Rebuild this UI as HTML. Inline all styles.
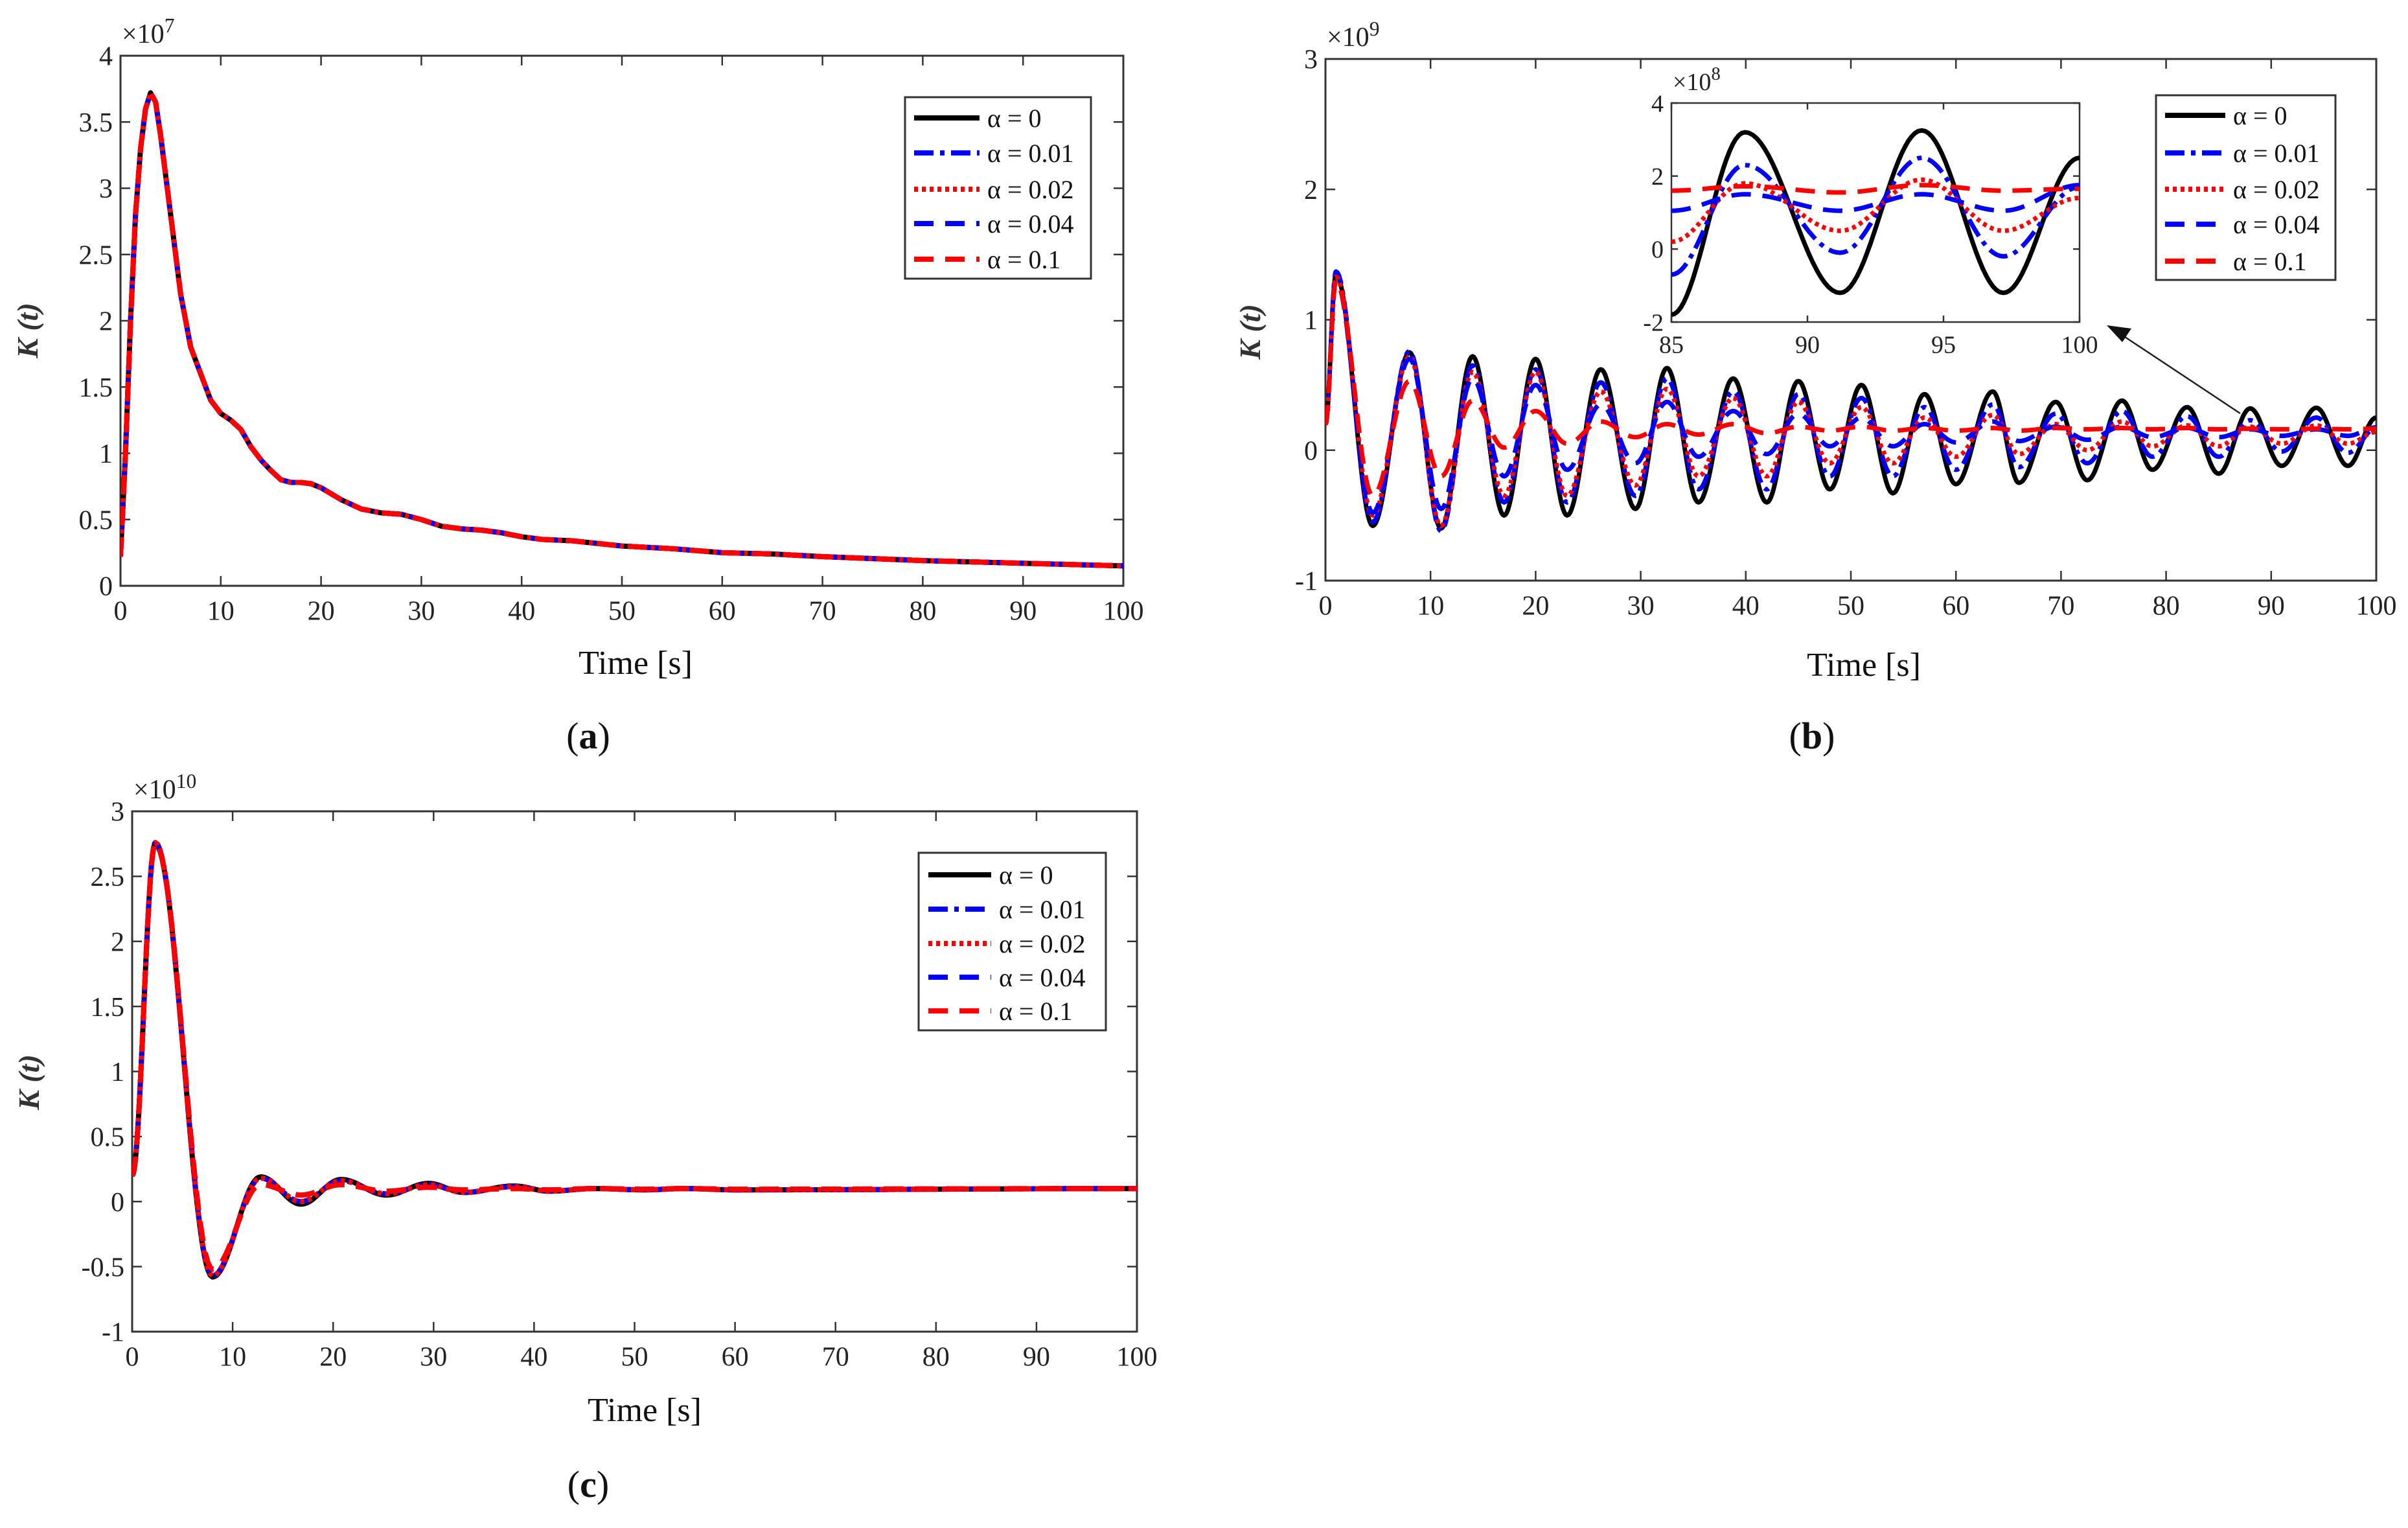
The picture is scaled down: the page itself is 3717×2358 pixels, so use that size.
<!DOCTYPE html>
<html><head><meta charset="utf-8"><style>
html,body{margin:0;padding:0;background:#fff}
svg{display:block;font-family:"Liberation Serif",serif}
</style></head><body>
<svg id="fig" width="3717" height="2358" viewBox="0 0 3717 2358" xmlns="http://www.w3.org/2000/svg"></svg>
<script>
// ---------- data ----------
// (a) K(t) x1e7
const aT=[0,0.5,1,1.5,2,2.5,3,3.5,4,5,6,7,8,9,10,11,12,13,14,15,16,17,18,19,20,22,24,26,28,30,32,34,36,38,40,42,45,50,55,60,65,70,80,90,100];
const aK=[0.22,1.0,2.0,2.8,3.3,3.6,3.72,3.65,3.4,2.8,2.2,1.8,1.6,1.4,1.3,1.25,1.18,1.05,0.95,0.87,0.8,0.78,0.78,0.77,0.74,0.65,0.58,0.55,0.54,0.50,0.45,0.43,0.42,0.40,0.37,0.35,0.34,0.30,0.28,0.25,0.24,0.22,0.19,0.17,0.15];
// (b) extrema x1e9
const bT=[0,1,4.5,8,11,14,17,20,23,26.2,29.5,32.5,35.5,38.8,42,45,48,51,54,57,60,63.5,66,69.5,72.5,75.8,78.7,82,85,88,91,94.3,97.3,100];
const bK0=[0.2,1.35,-0.58,0.75,-0.6,0.72,-0.5,0.70,-0.5,0.62,-0.45,0.63,-0.4,0.55,-0.4,0.53,-0.3,0.50,-0.33,0.43,-0.26,0.45,-0.25,0.37,-0.23,0.38,-0.15,0.33,-0.18,0.32,-0.12,0.325,-0.12,0.25];
const bK01=[0.2,1.37,-0.55,0.76,-0.62,0.65,-0.4,0.62,-0.4,0.52,-0.35,0.55,-0.3,0.45,-0.3,0.43,-0.2,0.40,-0.2,0.33,-0.15,0.35,-0.13,0.28,-0.1,0.3,-0.05,0.26,-0.05,0.23,-0.01,0.25,-0.02,0.17];
const bK02=[0.2,1.33,-0.5,0.72,-0.58,0.6,-0.35,0.6,-0.35,0.45,-0.27,0.47,-0.2,0.4,-0.2,0.37,-0.1,0.33,-0.1,0.25,-0.05,0.27,-0.03,0.2,0.0,0.22,0.03,0.19,0.03,0.18,0.05,0.19,0.05,0.14];
const bK04=[0.2,1.3,-0.48,0.7,-0.45,0.55,-0.2,0.5,-0.15,0.35,-0.1,0.37,-0.05,0.3,-0.03,0.28,0.03,0.25,0.03,0.2,0.06,0.22,0.07,0.18,0.08,0.18,0.1,0.17,0.1,0.16,0.11,0.16,0.11,0.175];
const bK1=[0.2,1.3,-0.35,0.53,-0.2,0.38,0.02,0.3,0.05,0.22,0.1,0.2,0.12,0.2,0.13,0.18,0.15,0.18,0.15,0.17,0.15,0.17,0.15,0.17,0.16,0.17,0.16,0.17,0.16,0.165,0.16,0.165,0.16,0.165];
// inset x1e8
const iT=[85,87.7,91.2,94.2,97.2,100];
const iK0=[-1.8,3.2,-1.2,3.25,-1.2,2.5];
const iK01=[-0.7,2.3,-0.1,2.5,-0.2,1.7];
const iK02=[0.2,1.8,0.5,1.9,0.5,1.4];
const iK04=[1.05,1.5,1.05,1.5,1.05,1.75];
const iK1=[1.6,1.72,1.55,1.75,1.6,1.65];
// (c) extrema x1e10
const cT=[0,2.3,8,12.8,16.8,20.8,25.3,29.5,33,38,41.5,46,51,55,60,100];
const cK0=[0.2,2.75,-0.58,0.19,-0.02,0.17,0.05,0.14,0.07,0.12,0.08,0.1,0.09,0.1,0.09,0.1];
const cK01=[0.2,2.76,-0.57,0.18,0.0,0.16,0.06,0.13,0.07,0.115,0.08,0.1,0.09,0.1,0.09,0.1];
const cK1=[0.2,2.75,-0.52,0.13,0.05,0.13,0.08,0.11,0.09,0.1,0.09,0.1,0.095,0.1,0.095,0.1];
const xTicks=[0,10,20,30,40,50,60,70,80,90,100];
const legendLabels=["α = 0","α = 0.01","α = 0.02","α = 0.04","α = 0.1"];

// ---------- helpers ----------
const NS="http://www.w3.org/2000/svg";
const svg=document.getElementById('fig');
function mk(tag,attrs,parent){const e=document.createElementNS(NS,tag);for(const k in attrs)e.setAttribute(k,attrs[k]);(parent||svg).appendChild(e);return e;}
const styles=[
 {stroke:"#000",dash:""},
 {stroke:"#0000ff",dash:"30 10 7 10"},
 {stroke:"#ff0000",dash:"6 6"},
 {stroke:"#0000ff",dash:"30 18"},
 {stroke:"#ff0000",dash:"30 18"}];
function axis(c){
  c.sx=v=>c.x0+(v-c.xmin)/(c.xmax-c.xmin)*(c.x1-c.x0);
  c.sy=v=>c.y1-(v-c.ymin)/(c.ymax-c.ymin)*(c.y1-c.y0);
  return c;
}
function drawFrame(c,id){
  const g=mk('g',{});
  
  
  mk('rect',{x:c.x0,y:c.y0,width:c.x1-c.x0,height:c.y1-c.y0,fill:'#fff',stroke:'#333','stroke-width':c.fw||3},g);
  const tl=c.tl||15;
  c.xt.forEach(v=>{const x=c.sx(v);
    mk('line',{x1:x,y1:c.y1,x2:x,y2:c.y1-tl,stroke:'#333','stroke-width':2.5},g);
    mk('line',{x1:x,y1:c.y0,x2:x,y2:c.y0+tl,stroke:'#333','stroke-width':2.5},g);
    const t=mk('text',{x:x,y:c.y1+c.fs*1.25,'font-size':c.fs,'text-anchor':'middle',fill:'#222'},g);t.textContent=v;
    
    
  });
  c.yt.forEach(v=>{const y=c.sy(v);
    mk('line',{x1:c.x0,y1:y,x2:c.x0+tl,y2:y,stroke:'#333','stroke-width':2.5},g);
    mk('line',{x1:c.x1,y1:y,x2:c.x1-tl,y2:y,stroke:'#333','stroke-width':2.5},g);
    const t=mk('text',{x:c.x0-12,y:y+c.fs*0.35,'font-size':c.fs,'text-anchor':'end',fill:'#222'},g);t.textContent=v;
    
    
  });
  const ex=mk('text',{x:c.x0+2,y:c.y0-20,'font-size':c.fs,fill:'#222'},g);
  ex.innerHTML='×10<tspan dy="-16" font-size="'+(c.fs*0.75)+'">'+c.exp+'</tspan>';
  
  
  return g;
}
function cosPath(c,T,V){
  let d='';
  for(let i=0;i<T.length-1;i++){
    for(let k=0;k<=24;k++){const s=k/24;const t=T[i]+(T[i+1]-T[i])*s;const v=V[i]+(V[i+1]-V[i])*(1-Math.cos(Math.PI*s))/2;
      d+=(d?'L':'M')+c.sx(t).toFixed(1)+' '+c.sy(v).toFixed(1);}
  }
  return d;
}
function linePath(c,T,V){
  return T.map((t,i)=>(i?'L':'M')+c.sx(t).toFixed(1)+' '+c.sy(V[i]).toFixed(1)).join('');
}
function drawSeries(c,id,list,smooth,sw){
  const cp=mk('clipPath',{id:'clip-'+id});
  mk('rect',{x:c.x0,y:c.y0,width:c.x1-c.x0,height:c.y1-c.y0},cp);
  list.forEach((s,i)=>{
    const p=mk('path',{d:smooth?cosPath(c,s.T,s.V):linePath(c,s.T,s.V),fill:'none',stroke:styles[i].stroke,'stroke-width':sw,'stroke-dasharray':styles[i].dash,'stroke-linejoin':'round','clip-path':'url(#clip-'+id+')'});
    
    
  });
}
function legend(id,bx,by,bw,bh,rows,lx0,lx1,tx){
  const g=mk('g',{});
  
  
  mk('rect',{x:bx,y:by,width:bw,height:bh,fill:'#fff',stroke:'#333','stroke-width':3},g);
  rows.forEach((y,i)=>{
    const e=mk('g',{},g);
    
    
    mk('line',{x1:lx0,y1:y,x2:lx1,y2:y,stroke:styles[i].stroke,'stroke-width':8,'stroke-dasharray':styles[i].dash},e);
    const t=mk('text',{x:tx,y:y+14,'font-size':40,fill:'#111'},e);t.textContent=legendLabels[i];
  });
}
function txt(x,y,s,size,extra,name){const t=mk('text',Object.assign({x:x,y:y,'font-size':size,'text-anchor':'middle',fill:'#111'},extra||{}));t.innerHTML=s;
  
  return t;}
function ylab(x,y,name){txt(x,y,'K (t)',46,{'font-weight':'bold','font-style':'italic',transform:'rotate(-90 '+x+' '+y+')',fill:'#333'},name);}

// ---------- chart a ----------
const A=axis({x0:186,x1:1734,y0:86,y1:904,xmin:0,xmax:100,ymin:0,ymax:4,xt:xTicks,yt:[0,0.5,1,1.5,2,2.5,3,3.5,4],fs:42,exp:7});
drawFrame(A,'chart-a');
drawSeries(A,'a',[0,1,2,3,4].map(()=>({T:aT,V:aK})),false,8);
legend('chart-a',1397,150,287,280,[182,236,292,345,400],1411,1512,1524);
ylab(58,510,'chart-a-y-axis-title');
txt(981,1040,'Time [s]',52,{},'chart-a-x-axis-title');
txt(908,1155,'(<tspan font-weight="bold">a</tspan>)',58,{},'panel-label-a');

// ---------- chart b ----------
const B=axis({x0:2046,x1:3668,y0:91,y1:896,xmin:0,xmax:100,ymin:-1,ymax:3,xt:xTicks,yt:[-1,0,1,2,3],fs:42,exp:9});
drawFrame(B,'chart-b');
drawSeries(B,'b',[{T:bT,V:bK0},{T:bT,V:bK01},{T:bT,V:bK02},{T:bT,V:bK04},{T:bT,V:bK1}],true,7);
// inset
const I=axis({x0:2580,x1:3210,y0:159,y1:497,xmin:85,xmax:100,ymin:-2,ymax:4,xt:[85,90,95,100],yt:[-2,0,2,4],fs:38,exp:8,tl:10,fw:2.5});
drawFrame(I,'inset');
drawSeries(I,'inset',[{T:iT,V:iK0},{T:iT,V:iK01},{T:iT,V:iK02},{T:iT,V:iK04},{T:iT,V:iK1}],true,7);
legend('chart-b',3328,147,277,285,[178,236,292,346,403],3342,3435,3447);
// arrow
const ar=mk('g',{});


mk('line',{x1:3458,y1:638,x2:3268,y2:512,stroke:'#222','stroke-width':2.5},ar);
mk('polygon',{points:'3252,502 3290,507 3276,528',fill:'#111'},ar);
ylab(1945,512,'chart-b-y-axis-title');
txt(2877,1043,'Time [s]',52,{},'chart-b-x-axis-title');
txt(2797,1155,'(<tspan font-weight="bold">b</tspan>)',58,{},'panel-label-b');

// ---------- chart c ----------
const C=axis({x0:204,x1:1755,y0:1252,y1:2055,xmin:0,xmax:100,ymin:-1,ymax:3,xt:xTicks,yt:[-1,-0.5,0,0.5,1,1.5,2,2.5,3],fs:42,exp:10});
drawFrame(C,'chart-c');
drawSeries(C,'c',[{T:cT,V:cK0},{T:cT,V:cK01},{T:cT,V:cK01},{T:cT,V:cK1},{T:cT,V:cK1}],true,8);
legend('chart-c',1418,1316,289,274,[1350,1403,1456,1508,1560],1433,1530,1542);
ylab(60,1670,'chart-c-y-axis-title');
txt(995,2193,'Time [s]',52,{},'chart-c-x-axis-title');
txt(908,2310,'(<tspan font-weight="bold">c</tspan>)',58,{},'panel-label-c');
</script>
</body></html>
